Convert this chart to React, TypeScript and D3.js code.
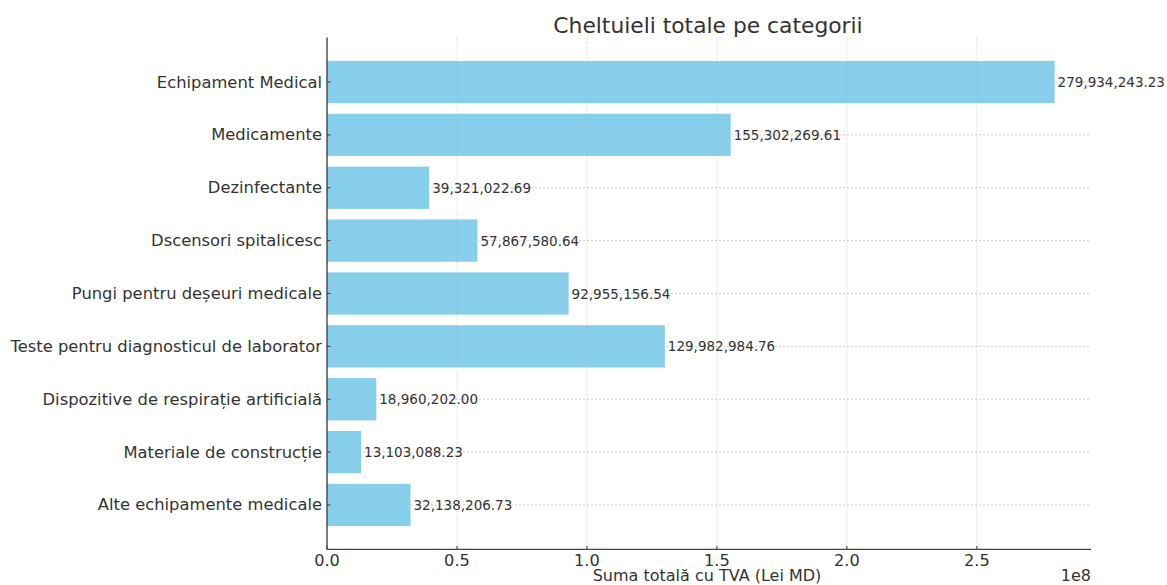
import React from "react";
import * as d3 from "d3";

// Expense categories, top to bottom
const categories: string[] = [
  "Echipament Medical",
  "Medicamente",
  "Dezinfectante",
  "Dscensori spitalicesc",
  "Pungi pentru deșeuri medicale",
  "Teste pentru diagnosticul de laborator",
  "Dispozitive de respirație artificială",
  "Materiale de construcție",
  "Alte echipamente medicale",
];

// Total amount with VAT per category (Lei MD)
const totals: number[] = [
  279934243.23,
  155302269.61,
  39321022.69,
  57867580.64,
  92955156.54,
  129982984.76,
  18960202.0,
  13103088.23,
  32138206.73,
];

const xTicks: number[] = [0, 0.5e8, 1.0e8, 1.5e8, 2.0e8, 2.5e8];

const W = 1167;
const H = 585;
const M = { left: 327, right: 1091, top: 37.6, bottom: 549.4 };
const FONT = "'DejaVu Sans', Verdana, sans-serif";
const TEXT = "#333";

const fmt = (v: number) =>
  v.toLocaleString("en-US", { minimumFractionDigits: 2, maximumFractionDigits: 2 });

export default function App() {
  const x = d3
    .scaleLinear()
    .domain([0, (d3.max(totals) as number) * 1.05])
    .range([M.left, M.right]);

  const y = d3
    .scaleBand<string>()
    .domain(categories)
    .range([M.top, M.bottom])
    .paddingInner(0.2)
    .paddingOuter(0.44);

  const bw = y.bandwidth();
  const cy = (c: string) => (y(c) as number) + bw / 2;

  return (
    <svg
      width={W}
      height={H}
      style={{ position: "absolute", left: 0, top: 0, background: "#fff" }}
      fontFamily={FONT}
    >
      {/* horizontal grid under the bars */}
      {categories.map((c) => (
        <line
          key={"hg" + c}
          x1={M.left}
          x2={M.right}
          y1={cy(c)}
          y2={cy(c)}
          stroke="#c8c8c8"
          strokeWidth={0.9}
          strokeDasharray="2,2"
        />
      ))}

      {/* bars */}
      {categories.map((c, i) => (
        <rect
          key={"b" + c}
          x={x(0)}
          y={y(c) as number}
          width={x(totals[i]) - x(0)}
          height={bw}
          fill="#87CEEB"
        />
      ))}

      {/* vertical grid, drawn over the bars */}
      {xTicks.slice(1).map((t) => (
        <line
          key={"vg" + t}
          x1={x(t)}
          x2={x(t)}
          y1={M.top}
          y2={M.bottom}
          stroke="#b0b0b0"
          strokeOpacity={0.5}
          strokeWidth={0.9}
          strokeDasharray="2,2"
        />
      ))}

      {/* value labels */}
      {categories.map((c, i) => (
        <text
          key={"v" + c}
          x={x(totals[i]) + 3}
          y={cy(c)}
          dominantBaseline="central"
          fontSize={13.5}
          fill={TEXT}
        >
          {fmt(totals[i])}
        </text>
      ))}

      {/* spines */}
      <line x1={M.left} x2={M.left} y1={M.top} y2={M.bottom} stroke="#444" strokeWidth={1.4} />
      <line x1={M.left} x2={M.right} y1={M.bottom} y2={M.bottom} stroke="#444" strokeWidth={1.4} />

      {/* y ticks and labels */}
      {categories.map((c) => (
        <g key={"yt" + c}>
          <line x1={M.left} x2={M.left + 3.5} y1={cy(c)} y2={cy(c)} stroke="#444" strokeWidth={1.1} />
          <text
            x={M.left - 5}
            y={cy(c)}
            textAnchor="end"
            dominantBaseline="central"
            fontSize={16.35}
            fill={TEXT}
          >
            {c}
          </text>
        </g>
      ))}

      {/* x ticks and labels */}
      {xTicks.map((t) => (
        <g key={"xt" + t}>
          <line x1={x(t)} x2={x(t)} y1={M.bottom} y2={M.bottom - 3.5} stroke="#444" strokeWidth={1.1} />
          <text x={x(t)} y={566} textAnchor="middle" fontSize={16.2} fill={TEXT}>
            {(t / 1e8).toFixed(1)}
          </text>
        </g>
      ))}

      {/* offset text */}
      <text x={M.right} y={581} textAnchor="end" fontSize={16} fill={TEXT}>
        1e8
      </text>

      {/* axis title */}
      <text x={(M.left + M.right) / 2 - 2} y={581.2} textAnchor="middle" fontSize={16} fill={TEXT}>
        Suma totală cu TVA (Lei MD)
      </text>

      {/* chart title */}
      <text x={(M.left + M.right) / 2 - 1} y={33} textAnchor="middle" fontSize={21.8} fill={TEXT}>
        Cheltuieli totale pe categorii
      </text>
    </svg>
  );
}
